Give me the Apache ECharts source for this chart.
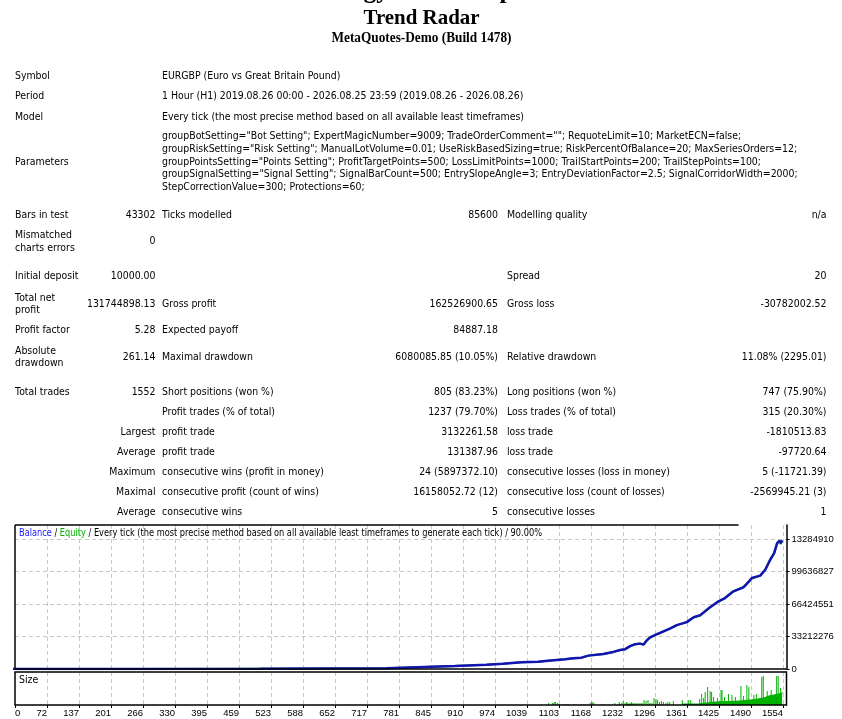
<!DOCTYPE html>
<html>
<head>
<meta charset="utf-8">
<script src="https://cdn.jsdelivr.net/npm/echarts@6/dist/echarts.min.js"></script>
<style>
html,body{margin:0;padding:0;background:#fff;}
#c{width:842px;height:719px;}
</style>
</head>
<body>
<div id="c"></div>
<script>
// ---------- data ----------
const xTickLabels = ['0','72','137','201','266','330','395','459','523','588','652','717','781','845','910','974','1039','1103','1168','1232','1296','1361','1425','1490','1554'];
const yTickLabels = ['0','33212276','66424551','99636827','13284910'];

const balanceTrade = [0,250,500,755,757,893,957,990,1027,1061,1081,1098,1115,1132,1148,1162,1192,1212,1226,1236,1246,1256,1266,1273,1279,1286,1299,1306,1326,1340,1360,1374,1387,1407,1424,1437,1454,1474,1484,1491,1508,1518,1528,1536,1542,1547,1549,1552];
const balanceValue = [10000,50000,250000,800000,1900000,3100000,4400000,5500000,6900000,7500000,8500000,9300000,10000000,11000000,11600000,13700000,15400000,17500000,19500000,20300000,23400000,25400000,26000000,25000000,29000000,32400000,35500000,36900000,41300000,44900000,48000000,53000000,55200000,63200000,69300000,72700000,79600000,83700000,89000000,93200000,95600000,101700000,111900000,118800000,129000000,131400000,129000000,131754898];

const equityTrade = [0,250,500,755,757,893,957,990,1027,1061,1081,1098,1115,1132,1148,1162,1192,1212,1226,1236,1246,1256,1266,1273,1279,1286,1299,1306,1326,1340,1360,1374,1387,1407,1424,1437,1454,1474,1484,1491,1508,1518,1528,1536,1542,1547,1549,1552];
const equityValue = [10000,50000,250000,800000,1900000,3100000,4400000,5500000,6900000,7500000,8500000,9300000,10000000,11000000,11600000,13700000,15400000,17500000,19500000,20300000,23400000,25400000,26000000,25000000,29000000,32000000,35500000,36900000,41300000,44900000,48000000,53000000,54600000,63200000,69300000,72700000,79600000,83700000,89000000,92600000,95600000,101700000,111900000,118800000,129000000,131400000,127800000,131754898];

// size panel: individual (sparse / spike) trades
const sizeTrade = [1082,1090,1093,1096,1100,1103,1111,1116,1121,1133,1148,1153,1165,1168,1171,1173,1189,1195,1202,1215,1224,1229,1232,1236,1239,1249,1274,1278,1282,1286,1290,1294,1298,1301,1305,1309,1313,1318,1322,1326,1333,1351,1364,1368,1386,1390,1394,1397,1402,1407,1410,1414,1422,1429,1431,1436,1444,1451,1458,1469,1474,1481,1485,1495,1500,1511,1514,1522,1530,1541,1544,1549];
const sizeValue = [2,2,3,3,2,1,1,1,1,1,1,1,2,3,3,2,1,1,1,2,3,2,4,2,3,3,5,4,5,2,2,7,6,5,3,4,3,2,3,3,4,5,5,5,6,11,7,13,18,14,13,8,7,15,15,8,11,10,8,19,9,20,18,10,11,28,29,14,15,29,29,17];
// size panel: dense base level (step)
const sizeBaseTrade = [1239,1273,1274,1351,1383,1417,1467,1488,1503,1515,1525,1535,1545,1552];
const sizeBaseValue = [1,1,null,1,3,4,5,6,7,9,10,11,12,13];

// report text
const titleTop = 'Strategy Tester Report';
const titleExpert = 'Trend Radar';
const titleServer = 'MetaQuotes-Demo (Build 1478)';
const modelText = 'Every tick (the most precise method based on all available least timeframes)';
const paramLines = [
 'groupBotSetting="Bot Setting"; ExpertMagicNumber=9009; TradeOrderComment=""; RequoteLimit=10; MarketECN=false;',
 'groupRiskSetting="Risk Setting"; ManualLotVolume=0.01; UseRiskBasedSizing=true; RiskPercentOfBalance=20; MaxSeriesOrders=12;',
 'groupPointsSetting="Points Setting"; ProfitTargetPoints=500; LossLimitPoints=1000; TrailStartPoints=200; TrailStepPoints=100;',
 'groupSignalSetting="Signal Setting"; SignalBarCount=500; EntrySlopeAngle=3; EntryDeviationFactor=2.5; SignalCorridorWidth=2000;',
 'StepCorrectionValue=300; Protections=60;'
];
// [label1, value1, label2, value2, label3, value3]
const reportRows = [
 ['Symbol','','EURGBP (Euro vs Great Britain Pound)','','',''],
 ['Period','','1 Hour (H1) 2019.08.26 00:00 - 2026.08.25 23:59 (2019.08.26 - 2026.08.26)','','',''],
 ['Model','',modelText,'','',''],
 ['Parameters','',paramLines.join('\n'),'','',''],
 ['Bars in test','43302','Ticks modelled','85600','Modelling quality','n/a'],
 ['Mismatched\ncharts errors','0','','','',''],
 ['Initial deposit','10000.00','','','Spread','20'],
 ['Total net\nprofit','131744898.13','Gross profit','162526900.65','Gross loss','-30782002.52'],
 ['Profit factor','5.28','Expected payoff','84887.18','',''],
 ['Absolute\ndrawdown','261.14','Maximal drawdown','6080085.85 (10.05%)','Relative drawdown','11.08% (2295.01)'],
 ['Total trades','1552','Short positions (won %)','805 (83.23%)','Long positions (won %)','747 (75.90%)'],
 ['','','Profit trades (% of total)','1237 (79.70%)','Loss trades (% of total)','315 (20.30%)'],
 ['','Largest','profit trade','3132261.58','loss trade','-1810513.83'],
 ['','Average','profit trade','131387.96','loss trade','-97720.64'],
 ['','Maximum','consecutive wins (profit in money)','24 (5897372.10)','consecutive losses (loss in money)','5 (-11721.39)'],
 ['','Maximal','consecutive profit (count of wins)','16158052.72 (12)','consecutive loss (count of losses)','-2569945.21 (3)'],
 ['','Average','consecutive wins','5','consecutive losses','1']
];
const chartTitle = ['Balance',' / ','Equity',' / Every tick (the most precise method based on all available least timeframes to generate each tick) / 90.00%'];

// ---------- layout ----------
const rowY = [76,96.7,117,162,215.3,241.7,276.7,304,330,357,392.3,412.3,432.3,452.3,472.3,492.3,512.3];
const colX = [15,155.5,162,498,507,826.5];
const X0 = 15, PLOT_W = 771.5, TOP = 525, MAIN_H = 144, SIZE_TOP = 672, SIZE_H = 33;
const xMin = 7.565, xMax = 1560.8, xInterval = 64.435;
const yMax = 147500000, yInterval = 33212276;

const cnv = document.createElement('canvas').getContext('2d');
function measure(t, font){ cnv.font = font; return cnv.measureText(t).width; }
const bodyFont = '10.5px "DejaVu Sans"';
const sx = 362 / measure(modelText, bodyFont);

const graphics = [];
function txt(t, x, y, align, extra){
  if(!t) return;
  graphics.push({type:'text', x:x, y:y, scaleX:sx, z:100, silent:true,
    style:Object.assign({text:t, font:bodyFont, fill:'#000', align:align||'left', verticalAlign:'middle', lineHeight:12.4}, extra||{})});
}
function serif(t, size, y, targetW){
  const f = 'bold ' + size + 'px "Liberation Serif"';
  const s = targetW / measure(t, f);
  graphics.push({type:'text', x:421.5, y:y, scaleX:s, z:100, silent:true,
    style:{text:t, font:f, fill:'#000', align:'center', verticalAlign:'middle'}});
}
serif(titleTop, 25.5, -8.7, 250);
serif(titleExpert, 21, 18.9, 116);
serif(titleServer, 14, 38, 180);

reportRows.forEach((r, i) => {
  const y = rowY[i];
  const lh = (i === 3) ? {lineHeight:12.7} : null;
  txt(r[0], colX[0], y, 'left');
  txt(r[1], colX[1], y, 'right');
  txt(r[2], colX[2], y, 'left', lh);
  txt(r[3], colX[3], y, 'right');
  txt(r[4], colX[4], y, 'left');
  txt(r[5], colX[5], y, 'right');
});

// chart title with coloured parts
const ctFull = chartTitle.join('');
const ctScale = 523 / measure(ctFull, bodyFont);
graphics.push({type:'text', x:19, y:533.5, scaleX:ctScale, z:100, silent:true,
  style:{text:'{b|'+chartTitle[0]+'}'+chartTitle[1]+'{e|'+chartTitle[2]+'}'+chartTitle[3],
    font:bodyFont, fill:'#000', align:'left', verticalAlign:'middle',
    rich:{b:{fill:'#1a1aff', font:bodyFont}, e:{fill:'#00b000', font:bodyFont}}}});
txt('Size', 19, 680, 'left');

// chart frame (drawn above the dashed grid lines)
const frame = {stroke:'#000', lineWidth:1.5};
function seg(x1, y1, x2, y2){
  graphics.push({type:'line', z:95, silent:true, shape:{x1:x1, y1:y1, x2:x2, y2:y2}, style:frame});
}
const R = X0 + PLOT_W;
seg(X0, TOP, 738.5, TOP);
seg(X0, TOP, X0, TOP + MAIN_H);
seg(X0, TOP + MAIN_H, R, TOP + MAIN_H);
graphics.push({type:'rect', z:95, silent:true, shape:{x:X0, y:SIZE_TOP, width:PLOT_W, height:SIZE_H}, style:{fill:null, stroke:'#000', lineWidth:1.5}});

// ---------- chart ----------
const dash = {type:[4,3], color:'#c8c8c8', width:1};
const axisFont = {fontFamily:'Liberation Sans', fontSize:9.5, color:'#000'};
function xLabel(v){
  const i = Math.round(v / xInterval);
  return (Math.abs(v - i * xInterval) < 0.01 && i < xTickLabels.length) ? xTickLabels[i] : '';
}
function yLabel(v){
  const i = Math.round(v / yInterval);
  return (Math.abs(v - i * yInterval) < 1 && i < yTickLabels.length) ? yTickLabels[i] : '';
}
const zip = (a, b) => a.map((x, i) => [x, b[i]]);

const chart = echarts.init(document.getElementById('c'), null, {renderer:'canvas'});
chart.setOption({
  animation:false,
  backgroundColor:'#fff',
  grid:[
    {left:X0, top:TOP, width:PLOT_W, height:MAIN_H, show:false},
    {left:X0, top:SIZE_TOP, width:PLOT_W, height:SIZE_H, show:false}
  ],
  xAxis:[
    {gridIndex:0, type:'value', min:xMin, max:xMax, show:false},
    {gridIndex:0, type:'value', min:0, max:xMax - xMin, interval:xInterval,
      axisLine:{show:false}, axisTick:{show:false}, axisLabel:{show:false},
      splitLine:{show:true, showMinLine:false, showMaxLine:false, lineStyle:dash}},
    {gridIndex:1, type:'value', min:xMin, max:xMax, show:false},
    {gridIndex:1, type:'value', min:0, max:xMax - xMin, interval:xInterval, position:'bottom',
      axisLine:{show:false, onZero:false},
      axisTick:{show:true, length:3, lineStyle:{color:'#000'}},
      axisLabel:Object.assign({show:true, margin:3, align:'right', alignMinLabel:'left', showMaxLabel:false, formatter:xLabel}, axisFont),
      splitLine:{show:true, showMinLine:false, showMaxLine:false, lineStyle:dash}}
  ],
  yAxis:[
    {gridIndex:0, type:'value', position:'right', min:0, max:yMax, interval:yInterval,
      axisLine:{show:true, onZero:false, lineStyle:{color:'#000', width:1.5}},
      axisTick:{show:true, length:3, lineStyle:{color:'#000'}},
      axisLabel:Object.assign({show:true, margin:5, showMaxLabel:false, formatter:yLabel}, axisFont),
      splitLine:{show:true, showMinLine:false, showMaxLine:false, lineStyle:dash}},
    {gridIndex:1, type:'value', min:0, max:SIZE_H, show:false, splitLine:{show:false}}
  ],
  series:[
    {type:'line', name:'Equity', xAxisIndex:0, yAxisIndex:0, data:zip(equityTrade, equityValue),
      showSymbol:false, symbol:'none', lineStyle:{color:'#00b000', width:2}, z:2},
    {type:'line', name:'Balance', xAxisIndex:0, yAxisIndex:0, data:zip(balanceTrade, balanceValue),
      showSymbol:false, symbol:'none', lineStyle:{color:'#1414b4', width:2.5}, z:3},
    {type:'line', name:'SizeBase', xAxisIndex:2, yAxisIndex:1, data:zip(sizeBaseTrade, sizeBaseValue),
      step:'end', showSymbol:false, symbol:'none', connectNulls:false,
      lineStyle:{color:'#00b000', width:1}, areaStyle:{color:'#00b000', opacity:1}},
    {type:'bar', name:'Size', xAxisIndex:2, yAxisIndex:1, data:zip(sizeTrade, sizeValue),
      barWidth:1, itemStyle:{color:'#00b000'}}
  ],
  graphic:graphics
});
</script>
</body>
</html>
